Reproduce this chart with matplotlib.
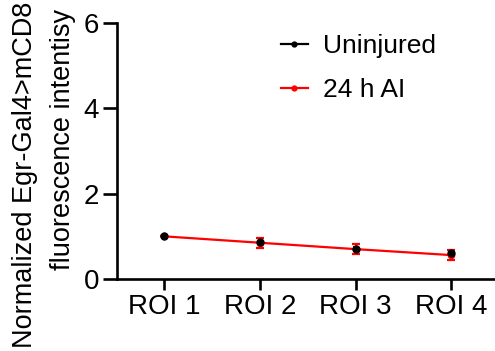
import numpy as np
import matplotlib
matplotlib.use('Agg')
import matplotlib.pyplot as plt
from matplotlib.lines import Line2D

plt.rcParams['font.family'] = ['Liberation Sans', 'DejaVu Sans']

# data
categories = ['ROI 1', 'ROI 2', 'ROI 3', 'ROI 4']
uninjured = [1.0, 0.86, 0.71, 0.60]
uninjured_err = [0.0, 0.03, 0.03, 0.03]
ai24 = [1.0, 0.85, 0.70, 0.56]
ai24_err = [0.0, 0.12, 0.12, 0.125]
yticks = [0, 2, 4, 6]

fig = plt.figure(figsize=(4.95, 3.51), dpi=100)
ax = fig.add_axes([117 / 495, 72 / 351, 378 / 495, 256 / 351])

x = np.arange(len(categories))

# black error bars (mostly hidden), red series, then black dots on top
ax.errorbar(x, uninjured, yerr=uninjured_err, fmt='none', ecolor='black',
            elinewidth=1.4, capsize=2.5, capthick=1.4, zorder=2)
ax.errorbar(x, ai24, yerr=ai24_err, color='#ff0000', marker='o', markersize=4.5,
            linewidth=1.6, elinewidth=1.6, capsize=3, capthick=1.6, zorder=3)
ax.plot(x, uninjured, 'o', color='black', markersize=5, zorder=5)

ax.set_xlim(-0.49, 3.455)
ax.set_ylim(0, 6)
ax.set_yticks(yticks)
ax.set_xticks(x)
ax.set_xticklabels(categories)

for s in ['top', 'right']:
    ax.spines[s].set_visible(False)
for s in ['left', 'bottom']:
    ax.spines[s].set_linewidth(1.9)
ax.tick_params(axis='both', labelsize=20, width=1.9, length=8, pad=3)
ax.tick_params(axis='y', length=10)

handles = [Line2D([], [], color='black', marker='o', markersize=3.5, linewidth=1.6),
           Line2D([], [], color='#ff0000', marker='o', markersize=3.5, linewidth=1.6)]
ax.legend(handles, ['Uninjured', '24 h AI'],
          loc='upper left', bbox_to_anchor=(0.37, 1.05), frameon=False,
          fontsize=19, handlelength=1.05, handletextpad=0.55,
          labelspacing=0.75)

# two-line y label, first line runs off the top like the reference
fig.text(25 / 495, 1 - 348 / 351, 'Normalized Egr-Gal4>mCD8', rotation=90,
         ha='center', va='bottom', fontsize=19.5)
fig.text(63 / 495, 1 - 139 / 351, 'fluorescence intentisy', rotation=90,
         ha='center', va='center', fontsize=19.5)

fig.savefig('out.png', dpi=100)
